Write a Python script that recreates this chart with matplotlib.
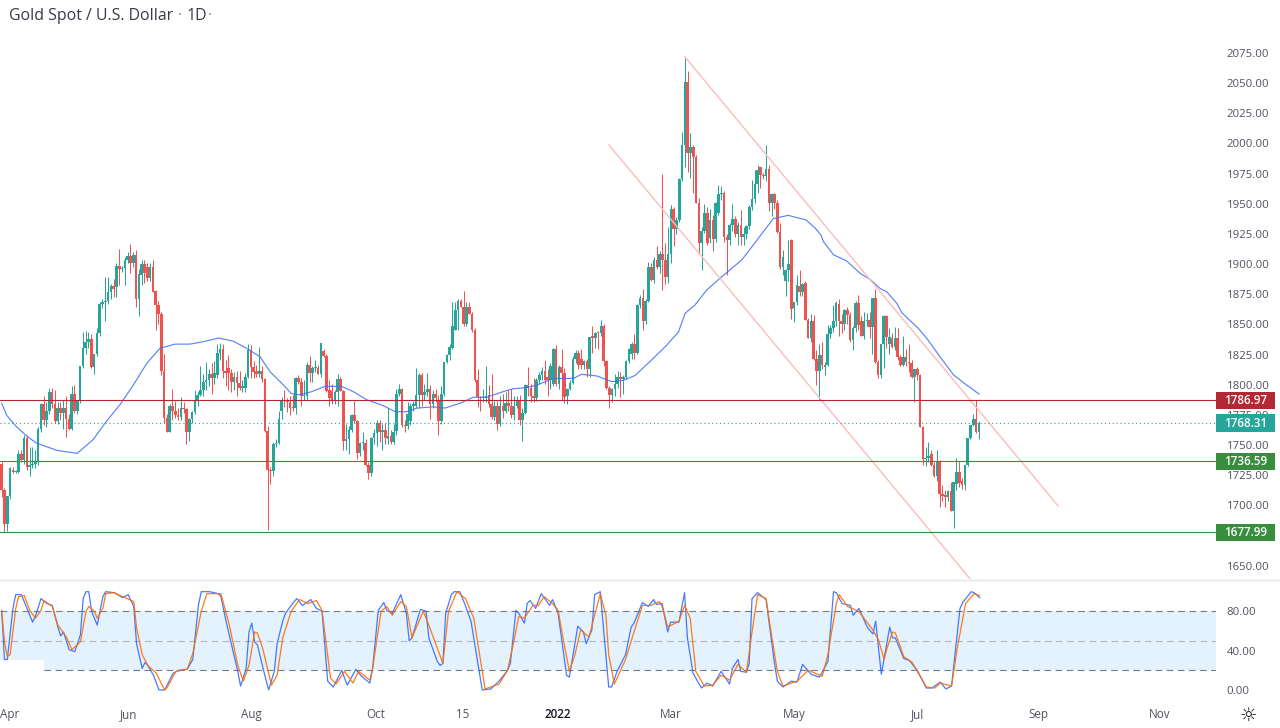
import numpy as np
import matplotlib
matplotlib.use('Agg')
import matplotlib.pyplot as plt
from matplotlib.patches import Rectangle

# daily candles
opens = [1734,1712,1684,1707,1729,1727,1727,1742,1737,1755,
    1731,1733,1734,1736,1763,1783,1770,1778,1793,1783,
    1769,1780,1776,1780,1771,1763,1792,1778,1786,1815,
    1830,1835,1837,1814,1825,1842,1866,1868,1869,1876,
    1881,1880,1898,1895,1896,1903,1906,1900,1907,1870,
    1890,1899,1897,1888,1897,1877,1865,1858,1811,1772,
    1760,1782,1778,1774,1773,1780,1779,1760,1771,1777,
    1786,1791,1795,1802,1803,1808,1805,1807,1826,1829,
    1811,1813,1809,1802,1806,1801,1797,1797,1806,1828,
    1814,1811,1808,1811,1804,1761,1729,1728,1750,1751,
    1778,1787,1786,1785,1781,1780,1805,1802,1790,1790,
    1816,1809,1813,1813,1808,1827,1823,1795,1794,1786,
    1793,1804,1794,1753,1754,1762,1774,1769,1743,1751,
    1751,1733,1726,1755,1759,1768,1760,1762,1754,1757,
    1752,1761,1792,1796,1766,1765,1769,1782,1782,1791,
    1807,1791,1793,1796,1783,1792,1787,1769,1792,1818,
    1824,1830,1845,1861,1869,1864,1850,1864,1858,1845,
    1803,1789,1788,1788,1791,1783,1773,1782,1767,1782,
    1778,1784,1782,1774,1782,1786,1770,1776,1799,1797,
    1790,1788,1803,1807,1811,1806,1803,1800,1829,1800,
    1814,1809,1790,1796,1801,1821,1826,1821,1816,1819,
    1812,1840,1838,1843,1842,1848,1819,1797,1791,1796,
    1800,1806,1804,1806,1819,1825,1833,1826,1865,1871,
    1852,1869,1897,1886,1903,1897,1908,1903,1889,1908,
    1945,1928,1936,1970,1998,2050,1991,1996,1988,1950,
    1917,1927,1942,1921,1936,1920,1942,1957,1958,1922,
    1919,1932,1937,1924,1932,1922,1924,1931,1947,1953,
    1966,1980,1973,1972,1978,1950,1957,1950,1926,1897,
    1885,1894,1919,1863,1868,1881,1876,1884,1853,1838,
    1852,1821,1811,1824,1814,1816,1841,1846,1852,1866,
    1852,1850,1861,1857,1836,1846,1867,1852,1840,1852,
    1853,1847,1871,1818,1807,1833,1856,1833,1838,1831,
    1838,1822,1816,1822,1818,1817,1806,1812,1807,1764,
    1738,1739,1742,1733,1724,1735,1709,1708,1706,1711,
    1695,1717,1727,1720,1716,1733,1755,1766,1771,1760]
highs = [1735,1714,1707,1731,1731,1729,1745,1745,1758,1758,
    1748,1748,1745,1764,1784,1790,1785,1797,1797,1795,
    1785,1785,1787,1790,1775,1798,1799,1787,1815,1843,
    1844,1843,1841,1825,1846,1868,1870,1889,1889,1883,
    1887,1900,1912,1898,1905,1909,1916,1909,1911,1895,
    1903,1903,1900,1900,1903,1878,1869,1860,1825,1775,
    1783,1796,1786,1780,1789,1785,1780,1772,1778,1795,
    1794,1815,1808,1818,1812,1817,1819,1833,1834,1833,
    1820,1824,1812,1810,1811,1811,1803,1809,1833,1832,
    1819,1816,1831,1815,1805,1765,1731,1752,1754,1778,
    1789,1795,1788,1790,1791,1806,1807,1805,1803,1818,
    1823,1815,1820,1816,1834,1829,1825,1803,1800,1795,
    1808,1806,1795,1767,1765,1775,1786,1770,1752,1760,
    1754,1735,1756,1763,1770,1770,1767,1768,1780,1762,
    1767,1796,1800,1797,1770,1785,1784,1786,1813,1809,
    1809,1800,1809,1799,1795,1796,1791,1798,1818,1825,
    1833,1868,1868,1870,1870,1877,1868,1868,1860,1846,
    1812,1790,1796,1815,1799,1808,1786,1786,1790,1792,
    1793,1795,1796,1790,1790,1791,1780,1800,1814,1800,
    1805,1805,1810,1814,1820,1812,1817,1830,1832,1816,
    1829,1813,1797,1803,1823,1828,1828,1829,1820,1821,
    1839,1848,1843,1844,1853,1850,1820,1798,1797,1808,
    1811,1810,1807,1820,1830,1835,1841,1866,1874,1879,
    1870,1901,1900,1905,1914,1910,1974,1917,1930,1948,
    1947,1938,1971,2009,2070,2059,2008,1998,1990,1954,
    1930,1949,1947,1945,1940,1951,1965,1964,1960,1924,
    1933,1949,1939,1934,1944,1930,1932,1948,1969,1977,
    1981,1980,1975,1998,1981,1958,1958,1952,1933,1911,
    1895,1919,1920,1868,1890,1894,1884,1885,1855,1858,
    1857,1828,1833,1835,1818,1849,1849,1865,1869,1870,
    1858,1862,1864,1860,1848,1869,1874,1856,1860,1859,
    1860,1871,1879,1820,1833,1857,1857,1846,1842,1847,
    1846,1824,1840,1829,1833,1820,1812,1814,1808,1765,
    1748,1752,1745,1735,1745,1737,1716,1712,1712,1719,
    1719,1739,1736,1722,1733,1755,1766,1775,1787,1769]
lows = [1706,1677,1678,1705,1726,1726,1726,1735,1734,1729,
    1724,1730,1730,1733,1760,1766,1764,1775,1780,1768,
    1767,1770,1763,1756,1762,1762,1776,1775,1784,1813,
    1825,1830,1813,1808,1823,1840,1863,1852,1866,1870,
    1872,1872,1882,1893,1882,1900,1892,1897,1864,1856,
    1882,1884,1885,1885,1876,1845,1850,1807,1768,1760,
    1760,1770,1772,1770,1770,1776,1750,1753,1768,1775,
    1782,1790,1790,1795,1798,1792,1800,1805,1820,1805,
    1798,1795,1793,1795,1790,1795,1793,1793,1805,1805,
    1805,1806,1806,1802,1760,1679,1717,1724,1748,1750,
    1771,1781,1777,1774,1778,1775,1800,1782,1787,1787,
    1802,1802,1810,1808,1806,1822,1793,1782,1783,1783,
    1782,1794,1745,1745,1742,1760,1768,1738,1740,1745,
    1732,1721,1724,1750,1749,1752,1745,1750,1750,1750,
    1750,1758,1790,1764,1760,1763,1766,1778,1780,1780,
    1782,1787,1790,1771,1780,1785,1758,1767,1790,1817,
    1820,1829,1845,1845,1864,1848,1848,1858,1843,1802,
    1781,1778,1785,1785,1781,1771,1770,1762,1765,1772,
    1776,1778,1772,1770,1780,1766,1753,1775,1790,1785,
    1785,1786,1800,1803,1800,1790,1796,1798,1798,1796,
    1787,1784,1783,1795,1800,1817,1812,1812,1812,1806,
    1806,1826,1830,1829,1840,1815,1796,1780,1785,1790,
    1797,1789,1792,1804,1817,1821,1821,1825,1863,1845,
    1850,1868,1885,1884,1895,1892,1878,1883,1884,1900,
    1914,1924,1934,1968,1980,1976,1971,1958,1950,1908,
    1894,1925,1915,1917,1910,1918,1940,1952,1918,1890,
    1915,1927,1922,1915,1915,1915,1920,1928,1944,1950,
    1958,1962,1970,1968,1943,1939,1945,1925,1895,1890,
    1873,1885,1854,1851,1865,1873,1873,1853,1838,1835,
    1820,1799,1787,1812,1807,1815,1838,1843,1848,1840,
    1842,1845,1850,1835,1828,1843,1845,1840,1837,1848,
    1838,1825,1817,1805,1805,1813,1830,1825,1830,1828,
    1820,1815,1815,1815,1810,1805,1785,1803,1764,1733,
    1732,1735,1732,1723,1720,1698,1703,1698,1703,1695,
    1681,1712,1715,1713,1712,1732,1754,1765,1759,1754]
closes = [1712,1684,1707,1730,1727,1728,1742,1737,1755,1731,
    1733,1734,1736,1763,1783,1770,1778,1793,1783,1769,
    1780,1776,1780,1771,1763,1792,1778,1786,1815,1830,
    1835,1837,1814,1825,1842,1866,1868,1869,1876,1881,
    1879,1898,1895,1896,1903,1906,1900,1907,1870,1891,
    1899,1892,1888,1897,1876,1865,1858,1811,1772,1760,
    1782,1778,1774,1773,1780,1779,1760,1771,1777,1786,
    1791,1795,1802,1803,1808,1805,1809,1826,1829,1811,
    1809,1809,1802,1806,1801,1797,1797,1806,1828,1814,
    1810,1808,1811,1804,1761,1729,1728,1750,1751,1771,
    1787,1786,1785,1780,1780,1805,1802,1790,1791,1816,
    1809,1813,1814,1808,1834,1823,1794,1788,1786,1793,
    1804,1794,1753,1754,1762,1774,1769,1743,1751,1752,
    1733,1726,1755,1759,1768,1760,1762,1755,1757,1752,
    1760,1792,1796,1766,1765,1775,1782,1783,1791,1807,
    1791,1793,1796,1783,1792,1788,1769,1792,1818,1824,
    1831,1848,1861,1869,1864,1850,1864,1858,1845,1803,
    1789,1788,1789,1790,1783,1773,1782,1767,1782,1778,
    1784,1782,1774,1782,1786,1770,1776,1799,1797,1790,
    1788,1803,1807,1811,1803,1803,1815,1829,1800,1814,
    1809,1789,1796,1801,1821,1826,1816,1816,1819,1812,
    1839,1838,1842,1842,1848,1819,1797,1791,1796,1800,
    1806,1804,1806,1819,1829,1833,1826,1865,1871,1852,
    1869,1897,1886,1903,1897,1908,1903,1889,1908,1945,
    1928,1936,1970,1998,2050,1991,1996,1988,1950,1917,
    1927,1942,1917,1936,1920,1950,1957,1958,1922,1919,
    1932,1937,1924,1932,1922,1924,1931,1947,1953,1966,
    1977,1973,1972,1978,1950,1957,1950,1926,1897,1905,
    1894,1899,1862,1868,1882,1876,1883,1853,1838,1852,
    1821,1811,1824,1816,1816,1841,1846,1852,1867,1852,
    1850,1861,1857,1836,1846,1867,1849,1840,1852,1853,
    1847,1871,1818,1807,1833,1856,1839,1839,1831,1838,
    1822,1816,1822,1818,1817,1806,1812,1807,1764,1738,
    1739,1740,1733,1724,1735,1709,1707,1706,1711,1695,
    1719,1727,1718,1716,1733,1755,1766,1771,1760,1768]

# moving average, sampled along the curve
ma_x = [0,1.8,5.3,8.9,12.4,19.7,27,32.7,37.4,42.3,47,51.8,56.5,61.9,67.3,72,77.4,82.7,87.5,92.3,
    95.9,99.4,103.5,106.5,110.7,115.5,121.4,125.6,130.3,136.3,140.5,144.7,148.2,154.1,158.3,163.7,168.5,173.2,179.1,182.7,187.5,191.1,
    197,204.2,207.1,212.6,217.9,222,226.2,231.5,237,241.7,244.1,247.6,251.8,256.5,264.3,269.7,275.6,
    281,283.9,287.2,290.6,292.6,293.5,297.1,301.8,306.6,310.1,313.8,316.1,319.7,321.5,327.4,330.4,335.1,340,344.7,349.1]
ma_y = [1784,1774,1764.5,1757,1751,1745,1742.5,1754,1769,1783,1799,1817,1829.5,1833,1833,1835,1838,1835.5,1829.5,1822.5,
    1810,1802,1792,1791,1793.6,1798,1798,1793.6,1787,1782,1777,1777,1780,1781,1780,1784,1789,1789,1793.6,1796,1797,1799,
    1804.6,1804.6,1808,1806.6,1801.9,1803,1807,1818.5,1830.9,1843,1858.5,1865.4,1877.8,1887.5,1902.7,1919,1937,
    1939.7,1937.8,1936,1929,1923.4,1917.9,1907,1901.9,1891.6,1886.7,1879,1876.4,1866.8,1859,1846,1837.8,1822.6,1807.4,1799,1791.6]

# stochastic %K and %D
k_x = [0,1,2,4,5,7,9,11,12,14,16,18,20,21,22,24,26,28,29,30,31,32,34,36,37,40,43,45,47,48,50,51,52,54,56,58,61,63,66,68,
    70,71,74,77,78,80,84,85,87,88,89,90,91,93,95,97,98,100,101,103,105,107,110,112,114,116,118,121,122,123,126,128,131,132,134,136,137,139,142,144,
    145,146,149,151,152,155,156,157,158,160,161,163,165,167,171,174,177,180,181,183,184,186,187,188,190,192,195,196,198,201,202,205,207,208,210,211,213,216,217,219,
    222,224,225,228,230,232,233,235,237,238,241,243,244,246,249,251,253,256,259,260,262,263,265,266,267,269,272,275,276,278,281,283,285,288,291,294,
    296,297,299,302,303,305,308,310,311,313,316,317,318,321,323,326,329,331,334,336,338,341,342,345,346,348]
k_v = [81,31,31,83,97,97,83,69,75,93,88,86,64,55,59,41,39,56,93,100,100,80,66,95,100,99,94,97,85,47,22,28,25,15,0,0,17,20,21,31,
    86,100,100,98,95,68,19,4,22,59,68,49,46,22,0,19,47,70,78,86,93,86,92,83,80,9,3,20,12,5,21,14,7,22,81,89,81,78,97,78,
    50,53,82,80,53,29,25,27,78,97,100,100,86,70,0,1,9,20,27,81,78,68,88,91,83,98,86,92,78,15,13,65,59,47,61,97,100,3,3,19,
    36,64,68,89,85,92,87,88,59,69,69,99,53,17,2,7,4,19,6,22,31,19,18,27,93,99,92,27,9,3,9,8,26,16,13,29,
    100,99,88,86,76,83,64,57,70,16,64,53,53,32,30,19,2,2,8,1,4,83,89,100,99,94]
d_x = [0,1,2,3,5,6,8,10,12,14,15,18,20,23,25,28,30,31,33,34,36,37,40,43,47,48,50,52,55,58,59,62,66,68,71,73,78,81,84,86,
    88,90,91,93,96,98,100,103,106,109,112,114,117,119,122,125,127,131,132,135,137,139,142,144,146,150,152,157,159,162,
    165,168,172,177,180,182,184,186,189,191,193,196,198,200,202,204,206,209,211,213,215,216,218,222,225,228,231,234,235,237,
    241,243,245,247,250,253,256,259,262,265,267,269,272,273,276,278,283,287,292,294,297,298,301,305,310,312,314,315,317,318,
    321,324,329,332,334,338,340,343,346,348]
d_v = [80,49,34,36,83,95,96,81,73,81,91,85,66,54,41,49,80,85,80,73,83,98,99,95,90,63,36,25,17,0,3,19,21,37,80,98,98,66,25,9,
    25,59,58,41,5,15,53,80,92,88,91,81,12,6,19,7,19,10,22,80,85,76,90,85,53,80,66,27,80,100,
    93,73,1,6,20,46,75,73,86,86,95,88,81,49,19,36,61,54,76,98,76,36,6,31,59,86,86,90,85,64,
    70,86,73,19,4,5,15,10,26,18,59,97,93,73,19,4,9,20,14,36,88,97,85,80,61,51,31,42,59,58,
    34,28,3,2,7,4,42,88,98,96]

# drawn trend lines (bar, price)
upper_x = [244.0, 377.3]
upper_y = [2071, 1699]
lower_x = [216.9, 346.2]
lower_y = [1998, 1637.6]

# horizontal levels
res_level = 1786.97
mid_level = 1736.59
sup_level = 1677.99
last_price = 1768.31

price_ticks = [1650,1700,1725,1750,1775,1800,1825,1850,1875,1900,1925,1950,1975,2000,2025,2050,2075]
stoch_ticks = [0, 40, 80]
month_pos = [3,45,89,133,164,198,238,282,326,369,412]
month_labels = ['Apr','Jun','Aug','Oct','15','2022','Mar','May','Jul','Sep','Nov']

# my readings came out a bit low against the price scale
READ_SHIFT = 0.66

GREEN = '#26a69a'
RED = '#ef5350'
LEVEL_RED = '#b22833'
LEVEL_GREEN = '#388e3c'
TEXT = '#50535e'
TITLE = '#363a45'
FONT = 'Open Sans'

plt.rcParams['font.family'] = [FONT, 'DejaVu Sans']

W, H = 1280.0, 728.0
fig = plt.figure(figsize=(12.8, 7.28), dpi=100, facecolor='white')
ax = fig.add_axes([0, (H-579)/H, 1216/W, 579/H])
ax2 = fig.add_axes([0, (H-705)/H, 1216/W, 125/H])

# candles
x = np.arange(len(closes))
o = np.array(opens, dtype=float) + READ_SHIFT
h = np.array(highs, dtype=float) + READ_SHIFT
l = np.array(lows, dtype=float) + READ_SHIFT
c = np.array(closes, dtype=float) + READ_SHIFT
cols = [GREEN if a >= b else RED for a, b in zip(c, o)]
wicks = ax.vlines(x, l, h, colors=cols, linewidth=0.72, zorder=2)
wicks.set_snap(True)
ax.bar(x, np.maximum(np.abs(c-o), 0.9), bottom=np.minimum(o, c), width=0.9, color=cols, linewidth=0, zorder=3)

ax.plot(ma_x, np.array(ma_y) + READ_SHIFT, color='#3d6ff5', linewidth=0.85, alpha=0.85, zorder=4)
ax.plot(upper_x, np.array(upper_y) + READ_SHIFT, color='#fbbcbc', linewidth=1.0, zorder=4)
ax.plot(lower_x, np.array(lower_y) + READ_SHIFT, color='#fbbcbc', linewidth=1.0, zorder=4)

ax.axhline(res_level, color=LEVEL_RED, linewidth=0.8, zorder=5)
ax.axhline(mid_level, color=LEVEL_GREEN, linewidth=0.8, zorder=5)
ax.axhline(sup_level, color=LEVEL_GREEN, linewidth=0.8, zorder=5)
ax.axhline(last_price, color=GREEN, linewidth=0.8, linestyle=(0, (1, 2.5)), zorder=5)

ax.set_xlim(-0.6, 433.7)
ax.set_ylim(1639.06, 2118.76)
ax.set_xticks([])
ax.yaxis.tick_right()
ax.set_yticks(price_ticks)
ax.set_yticklabels(['%.2f' % p for p in price_ticks])
ax.tick_params(axis='y', length=0, pad=7.6, labelsize=8.2, labelcolor=TEXT)
for s in ax.spines.values():
    s.set_visible(False)


def price_tag(price, color):
    # coloured label on the price scale
    tr = ax.get_yaxis_transform()
    ax.add_patch(Rectangle((1.0, price-7.05), 59/1216.0, 14.1, transform=tr, facecolor=color,
                           edgecolor='none', clip_on=False, zorder=8))
    ax.text(1.0+29.5/1216.0, price-0.2, '%.2f' % price, transform=tr, color='white', fontsize=8.4,
            fontweight='semibold', ha='center', va='center', clip_on=False, zorder=9)


price_tag(res_level, LEVEL_RED)
price_tag(last_price, GREEN)
price_tag(mid_level, LEVEL_GREEN)
price_tag(sup_level, LEVEL_GREEN)

# stochastic pane
ax2.axhspan(30, 80, xmax=44/1216.0, color='#e3f2fd', linewidth=0, zorder=1)
ax2.axhspan(20, 80, xmin=44/1216.0, color='#e3f2fd', linewidth=0, zorder=1)
ax2.axhline(80, color='#787b86', linewidth=0.8, linestyle=(0, (6, 4)), zorder=2)
ax2.axhline(50, color='#b2b5be', linewidth=0.8, linestyle=(0, (6, 4)), zorder=2)
ax2.axhline(20, xmin=44/1216.0, color='#787b86', linewidth=0.8, linestyle=(0, (6, 4)), zorder=2)
ax2.plot(k_x, k_v, color='#2962ff', linewidth=0.9, alpha=0.85, zorder=3)
ax2.plot(d_x, d_v, color='#ff6d00', linewidth=0.9, alpha=0.9, zorder=4)

ax2.set_xlim(-0.6, 432.1)
ax2.set_ylim(-15.3, 111.9)
ax2.yaxis.tick_right()
ax2.set_yticks(stoch_ticks)
ax2.set_yticklabels(['%.2f' % v for v in stoch_ticks])
ax2.tick_params(axis='y', length=0, pad=7.6, labelsize=8.2, labelcolor=TEXT)
ax2.set_xticks(month_pos)
ax2.set_xticklabels(month_labels)
ax2.tick_params(axis='x', length=0, pad=2.5, labelsize=8.4, labelcolor=TEXT)
for lab in ax2.get_xticklabels():
    if lab.get_text() == '2022':
        lab.set_fontweight('semibold')
        lab.set_color('#131722')
for s in ax2.spines.values():
    s.set_visible(False)

# pane separator
fig.add_artist(plt.Line2D([0, 1], [(H-579.5)/H]*2, color='#e0e3eb', linewidth=1.0))

# header
fig.text(9/W, (H-16)/H, 'Gold Spot / U.S. Dollar', fontsize=11.4, color=TITLE, ha='left', va='center')
fig.text(178/W, (H-16)/H, '·', fontsize=11.4, color='#9598a1', ha='left', va='center')
fig.text(186.5/W, (H-16)/H, '1D', fontsize=11.4, color=TITLE, ha='left', va='center')
fig.text(208/W, (H-16)/H, '·', fontsize=11.4, color='#9598a1', ha='left', va='center')

# settings icon
fig.text(1248/W, (H-715)/H, '\u263c', fontsize=14, color='#131722', ha='center', va='center', family='DejaVu Sans')

fig.savefig('out.png', dpi=100, facecolor='white')
